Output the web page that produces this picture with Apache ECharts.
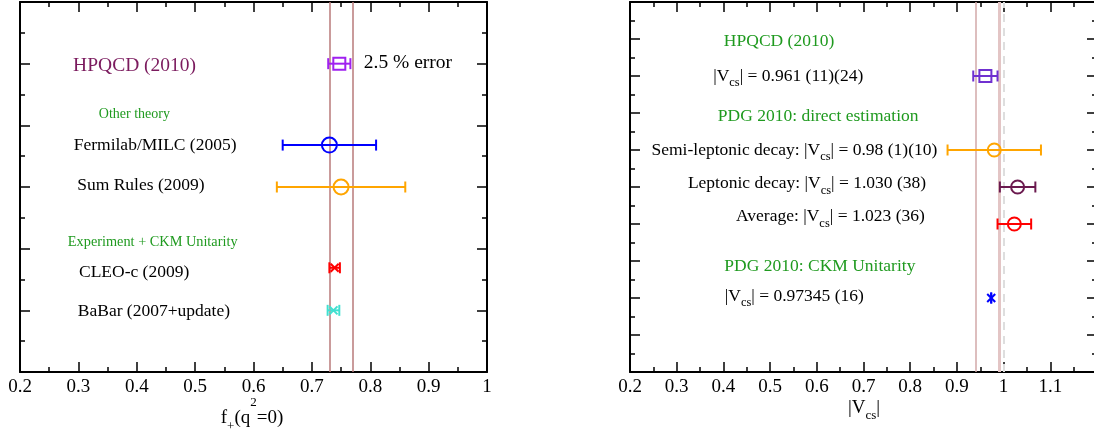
<!DOCTYPE html>
<html><head><meta charset="utf-8">
<script src="https://cdn.jsdelivr.net/npm/echarts@6/dist/echarts.min.js"></script>
<style>html,body{margin:0;padding:0;background:#fff}#c{width:1094px;height:437px}</style>
</head><body><div id="c"></div><script>
const FONT = 'Liberation Serif';

// ---------- Left panel: f+(q^2=0) ----------
const leftNames  = ['HPQCD (2010)', 'Fermilab/MILC (2005)', 'Sum Rules (2009)', 'CLEO-c (2009)', 'BaBar (2007+update)'];
const leftValues = [0.747, 0.730, 0.750, 0.739, 0.737];
const leftErrors = [0.019, 0.080, 0.110, 0.009, 0.010];
const leftRows   = [5, 3.68, 3, 1.69, 1];
const leftBand   = [0.728, 0.766];
const leftXTicks = ['0.2', '0.3', '0.4', '0.5', '0.6', '0.7', '0.8', '0.9', '1'];

const leftLabelTexts = ['HPQCD (2010)', 'Other theory', 'Fermilab/MILC (2005)', 'Sum Rules (2009)',
  'Experiment + CKM Unitarity', 'CLEO-c (2009)', 'BaBar (2007+update)', '2.5 % error'];
const leftLabelX = [0.291, 0.335, 0.292, 0.298, 0.282, 0.301, 0.299, 0.789];
const leftLabelY = [4.96, 4.18, 3.68, 3.02, 2.11, 1.61, 0.98, 5.01];

// ---------- Right panel: |Vcs| ----------
const rightNames  = ['HPQCD (2010)', 'Semi-leptonic decay', 'Leptonic decay', 'Average', 'PDG 2010: CKM Unitarity'];
const rightValues = [0.961, 0.98, 1.030, 1.023, 0.97345];
const rightErrors = [0.026, 0.10, 0.038, 0.036, 0.00016];
const rightRows   = [8, 6, 5, 4, 2];
const rightBand   = [0.935, 0.987];
const rightRef    = 1.0;
const rightXTicks = ['0.2', '0.3', '0.4', '0.5', '0.6', '0.7', '0.8', '0.9', '1', '1.1'];

const rightLabelTexts = ['HPQCD (2010)', '|V{sub|cs}| = 0.961 (11)(24)', 'PDG 2010: direct estimation',
  'Semi-leptonic decay: |V{sub|cs}| = 0.98 (1)(10)', 'Leptonic decay: |V{sub|cs}| = 1.030 (38)',
  'Average: |V{sub|cs}| = 1.023 (36)', 'PDG 2010: CKM Unitarity', '|V{sub|cs}| = 0.97345 (16)'];
const rightLabelX = [0.401, 0.378, 0.388, 0.246, 0.324, 0.427, 0.402, 0.403];
const rightLabelY = [8.93, 8.0, 6.9, 6.0, 5.1, 4.2, 2.86, 2.05];

// ---------- styles ----------
const GREEN = '#1f9a1f';
const leftMarkers = ['square', 'circle', 'circle', 'x', 'x'];
const leftColors  = ['#a020f0', '#0000ff', '#ffa500', '#ff0000', '#40e0d0'];
const leftSizes   = [12, 15, 15, 8, 8];
const leftLabelColors = ['#7b1b5e', GREEN, '#000', '#000', GREEN, '#000', '#000', '#000'];
const leftLabelSizes  = [19.5, 14, 17.5, 17.5, 14.3, 17.5, 17.5, 19.5];

const rightMarkers = ['square', 'circle', 'circle', 'circle', 'x'];
const rightColors  = ['#7030d0', '#ffa500', '#6b1a4f', '#ff0000', '#0000ff'];
const rightSizes   = [12, 13, 13, 13, 8];
const rightLabelColors = [GREEN, '#000', GREEN, '#000', '#000', '#000', GREEN, '#000'];
const rightLabelSizes  = [17.5, 17.5, 17.5, 17.5, 17.5, 17.5, 17.5, 17.5];

function tickFmt(list) {
  return function (v) {
    const s = list.find(t => Math.abs(parseFloat(t) - v) < 1e-6);
    return s === undefined ? '' : s;
  };
}

const tickCommon = {
  axisLine: { show: true, onZero: false, lineStyle: { color: '#000', width: 2 } },
  axisTick: { show: true, inside: true, length: 10, lineStyle: { color: '#000', width: 1.5 } },
  minorTick: { show: true, splitNumber: 2, length: 5, lineStyle: { color: '#000', width: 1.5 } },
  splitLine: { show: false },
  minorSplitLine: { show: false }
};

function xAxisDef(gridIndex, position, max, ticks) {
  return Object.assign({
    type: 'value', gridIndex, position, min: 0.2, max, interval: 0.1,
    axisLabel: ticks ? { show: true, margin: 6, color: '#000', fontSize: 19, fontFamily: FONT, formatter: tickFmt(ticks) } : { show: false }
  }, JSON.parse(JSON.stringify(tickCommon)));
}
function yAxisDef(gridIndex, position, max) {
  return Object.assign({
    type: 'value', gridIndex, position, min: 0, max, interval: 1,
    axisLabel: { show: false }
  }, JSON.parse(JSON.stringify(tickCommon)));
}

function errorSeries(xAxisIndex, yAxisIndex, values, errors, rows, markers, colors, sizes) {
  return {
    type: 'custom', xAxisIndex, yAxisIndex, z: 5, silent: true,
    encode: { x: 0, y: 1 },
    data: values.map((v, i) => [v, rows[i], errors[i], i]),
    renderItem: function (params, api) {
      const v = api.value(0), r = api.value(1), e = api.value(2), i = api.value(3);
      const c = api.coord([v, r]);
      const lo = api.coord([v - e, r]);
      const hi = api.coord([v + e, r]);
      const st = { stroke: colors[i], lineWidth: 2, fill: 'none' };
      const cap = 5.5;
      const ch = [
        { type: 'line', shape: { x1: lo[0], y1: c[1], x2: hi[0], y2: c[1] }, style: st },
        { type: 'line', shape: { x1: lo[0], y1: c[1] - cap, x2: lo[0], y2: c[1] + cap }, style: st },
        { type: 'line', shape: { x1: hi[0], y1: c[1] - cap, x2: hi[0], y2: c[1] + cap }, style: st }
      ];
      const s = sizes[i];
      if (markers[i] === 'square') {
        ch.push({ type: 'rect', shape: { x: c[0] - s / 2, y: c[1] - s / 2, width: s, height: s }, style: st });
      } else if (markers[i] === 'circle') {
        ch.push({ type: 'circle', shape: { cx: c[0], cy: c[1], r: s / 2 }, style: st });
      } else {
        ch.push({ type: 'line', shape: { x1: c[0] - s / 2, y1: c[1] - s / 2, x2: c[0] + s / 2, y2: c[1] + s / 2 }, style: st });
        ch.push({ type: 'line', shape: { x1: c[0] - s / 2, y1: c[1] + s / 2, x2: c[0] + s / 2, y2: c[1] - s / 2 }, style: st });
      }
      return { type: 'group', children: ch };
    }
  };
}

function richFor(color) {
  return {
    sub: { fontSize: 12.5, fontFamily: FONT, fill: color, padding: [14, 0, 0, 0] }
  };
}

function textSeries(xAxisIndex, yAxisIndex, texts, xs, ys, colors, sizes) {
  return {
    type: 'custom', xAxisIndex, yAxisIndex, z: 6, silent: true,
    encode: { x: 0, y: 1 },
    data: texts.map((t, i) => [xs[i], ys[i], i]),
    renderItem: function (params, api) {
      const i = api.value(2);
      const c = api.coord([api.value(0), api.value(1)]);
      return {
        type: 'text', x: c[0], y: c[1],
        style: {
          text: texts[i], fill: colors[i], fontSize: sizes[i], fontFamily: FONT,
          align: 'left', verticalAlign: 'middle', textAlign: 'left', textVerticalAlign: 'middle',
          rich: richFor(colors[i])
        }
      };
    }
  };
}

function vline(xAxisIndex, yAxisIndex, x, color, width, type) {
  return {
    type: 'line', xAxisIndex, yAxisIndex, data: [], silent: true, z: 2,
    markLine: {
      silent: true, symbol: ['none', 'none'], animation: false,
      label: { show: false },
      lineStyle: { color, width, type: type || 'solid' },
      data: [{ xAxis: x }]
    }
  };
}

const option = {
  animation: false,
  backgroundColor: '#fff',
  grid: [
    { left: 20, top: 2, width: 467, height: 370, containLabel: false, outerBoundsMode: 'none' },
    { left: 630, top: 2, width: 467, height: 370, containLabel: false, outerBoundsMode: 'none' }
  ],
  xAxis: [
    xAxisDef(0, 'bottom', 1.0, leftXTicks),
    xAxisDef(0, 'top', 1.0, null),
    xAxisDef(1, 'bottom', 1.2, rightXTicks),
    xAxisDef(1, 'top', 1.2, null)
  ],
  yAxis: [
    yAxisDef(0, 'left', 6),
    yAxisDef(0, 'right', 6),
    yAxisDef(1, 'left', 10),
    yAxisDef(1, 'right', 10)
  ],
  series: [
    vline(0, 0, leftBand[0], '#b97a7a', 1.5),
    vline(0, 0, leftBand[1], '#b97a7a', 1.5),
    vline(2, 2, rightBand[0], '#d2a9a9', 1.5),
    vline(2, 2, rightBand[1], '#e3c5c5', 3),
    vline(2, 2, rightRef, '#dedede', 2, [8, 6]),
    errorSeries(0, 0, leftValues, leftErrors, leftRows, leftMarkers, leftColors, leftSizes),
    errorSeries(2, 2, rightValues, rightErrors, rightRows, rightMarkers, rightColors, rightSizes),
    textSeries(0, 0, leftLabelTexts, leftLabelX, leftLabelY, leftLabelColors, leftLabelSizes),
    textSeries(2, 2, rightLabelTexts, rightLabelX, rightLabelY, rightLabelColors, rightLabelSizes)
  ],
  graphic: [
    {
      type: 'text', x: 252, y: 418, silent: true,
      style: {
        text: 'f{sub|+}(q{sup|2}=0)', fill: '#000', fontSize: 19, fontFamily: FONT,
        align: 'center', verticalAlign: 'middle', textAlign: 'center', textVerticalAlign: 'middle',
        rich: {
          sub: { fontSize: 13, fontFamily: FONT, fill: '#000', padding: [18, 0, 0, 0] },
          sup: { fontSize: 13, fontFamily: FONT, fill: '#000', padding: [0, 0, 30, 0] }
        }
      }
    },
    {
      type: 'text', x: 864, y: 408, silent: true,
      style: {
        text: '|V{sub|cs}|', fill: '#000', fontSize: 19, fontFamily: FONT,
        align: 'center', verticalAlign: 'middle', textAlign: 'center', textVerticalAlign: 'middle',
        rich: {
          sub: { fontSize: 13, fontFamily: FONT, fill: '#000', padding: [16, 0, 0, 0] }
        }
      }
    }
  ]
};

const chart = echarts.init(document.getElementById('c'));
chart.setOption(option);
</script></body></html>
